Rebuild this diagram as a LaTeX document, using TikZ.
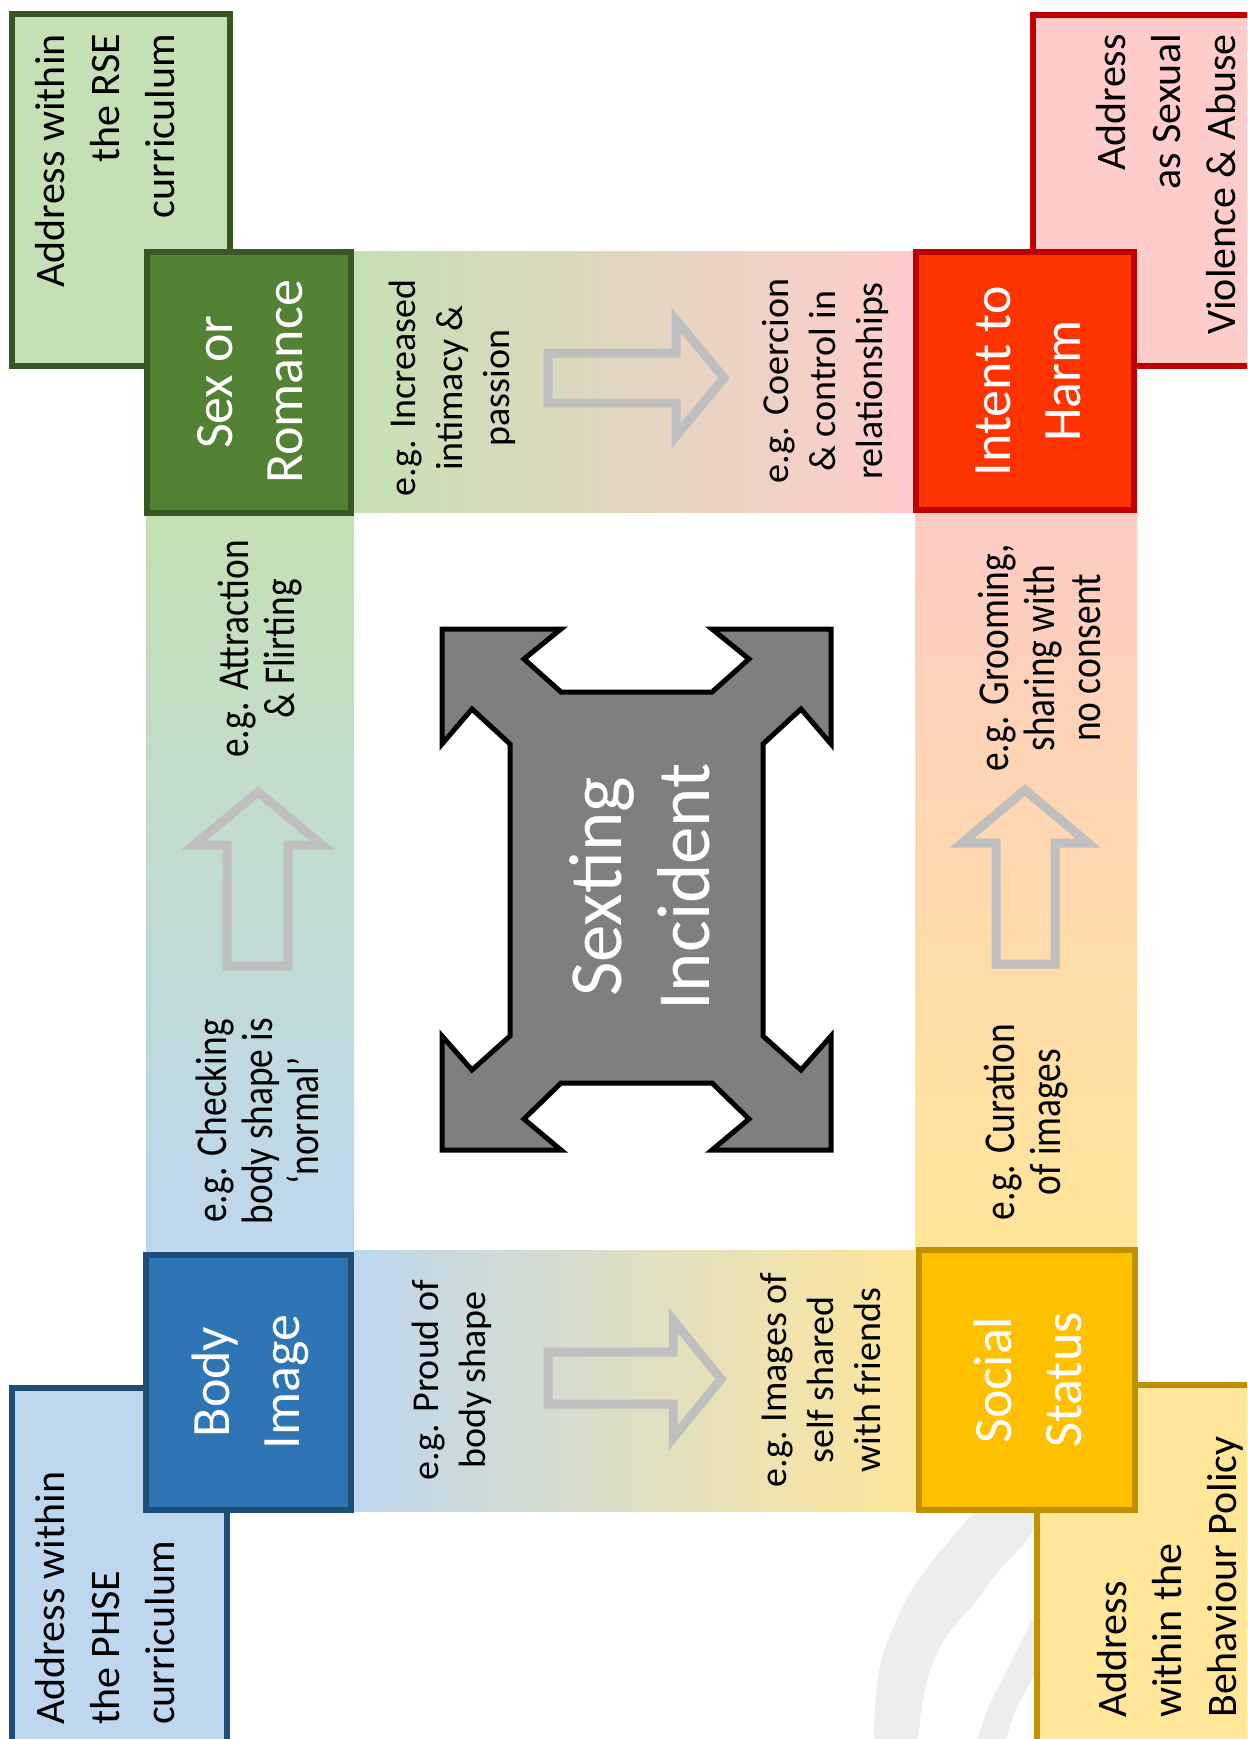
\documentclass[tikz,border=0pt]{standalone}
\usepackage{fontspec}
\setmainfont{Carlito}
\newfontfamily\condfont[FakeStretch=0.85]{Carlito}
\definecolor{lgreen}{HTML}{C5E0B4}
\definecolor{dgreen}{HTML}{385723}
\definecolor{mgreen}{HTML}{548235}
\definecolor{lpink}{HTML}{FFCCCC}
\definecolor{lsalmon}{HTML}{FDCBC4}
\definecolor{dred}{HTML}{C00000}
\definecolor{hred}{HTML}{FF3300}
\definecolor{lblue}{HTML}{BDD7EE}
\definecolor{dblue}{HTML}{1F4E79}
\definecolor{mblue}{HTML}{2E75B6}
\definecolor{lyellow}{HTML}{FFE699}
\definecolor{dgold}{HTML}{BF9000}
\definecolor{mgold}{HTML}{FFC000}
\definecolor{arrowgray}{HTML}{BFBFBF}
\definecolor{shapegray}{HTML}{7F7F7F}
\definecolor{wmgray}{HTML}{EDEDED}
\begin{document}
\begin{tikzpicture}[x=1pt,y=-1pt,
  boxline/.style={line width=6pt},
  titletext/.style={rotate=90, text=white, align=center, inner sep=0pt, font=\fontsize{54}{70}\selectfont},
  outertext/.style={rotate=90, inner sep=0pt, font=\fontsize{42}{55}\selectfont},
  bandtext/.style={rotate=90, inner sep=0pt, align=center, font=\fontsize{38}{47}\selectfont},
  sidetext/.style={rotate=90, inner sep=0pt, align=center, font=\condfont\fontsize{44}{46}\selectfont},
  hollowarrow/.style={draw=arrowgray, line width=9pt, line join=miter, miter limit=10},
  ]
\useasboundingbox (0,0) rectangle (1247,1739);
\clip (0,0) rectangle (1247,1739);
\fill[white] (0,0) rectangle (1247,1739);

% watermark brush strokes
\fill[wmgray, rounded corners=12pt] (873,1745) -- (876,1690) -- (881,1658) -- (894,1625) -- (911,1590) -- (931,1562) -- (956,1533) -- (975,1510)
  -- (1045,1510) -- (1028,1540) -- (996,1573) -- (978,1600) -- (958,1621) -- (941,1643) -- (929,1672) -- (921,1710) -- (918,1745) -- cycle;
\fill[wmgray, rounded corners=8pt] (975,1745) -- (990,1703) -- (1006,1672) -- (1022,1640) -- (1040,1605) -- (1040,1665) -- (1016,1708) -- (1004,1745) -- cycle;

% outer boxes
\filldraw[boxline, draw=dgreen, fill=lgreen] (12,14) rectangle (230,366);
\filldraw[boxline, draw=dred, fill=lpink] (1033,15) rectangle (1270,366);
\filldraw[boxline, draw=dblue, fill=lblue] (12,1388) rectangle (227,1760);
\filldraw[boxline, draw=dgold, fill=lyellow] (1037,1385) rectangle (1270,1760);

% gradient bands
\shade[left color=lgreen, right color=lpink] (350,251) rectangle (916,512);
\shade[top color=lgreen, bottom color=lblue] (146,512) rectangle (354,1252);
\shade[left color=lblue, right color=lyellow] (350,1250) rectangle (919,1511);
\shade[top color=lsalmon, bottom color=lyellow] (915,510) rectangle (1137,1250);

% main boxes
\filldraw[boxline, draw=dgreen, fill=mgreen] (147,252) rectangle (351,513);
\filldraw[boxline, draw=dred, fill=hred] (916,252) rectangle (1134,510);
\filldraw[boxline, draw=dblue, fill=mblue] (146,1255) rectangle (351,1510);
\filldraw[boxline, draw=dgold, fill=mgold] (919,1250) rectangle (1135,1510);

% hollow arrows
\draw[hollowarrow] (548,353) -- (676,353) -- (676,320) -- (724,378) -- (676,436) -- (676,403) -- (548,403) -- cycle;
\draw[hollowarrow] (548,1352) -- (673,1352) -- (673,1320) -- (721,1379) -- (673,1438) -- (673,1404) -- (548,1404) -- cycle;
\draw[hollowarrow] (227,966) -- (227,845) -- (194,845) -- (258,792) -- (322,845) -- (288,845) -- (288,966) -- cycle;
\draw[hollowarrow] (996,964) -- (996,843) -- (962,843) -- (1025,790) -- (1088,843) -- (1055,843) -- (1055,964) -- cycle;

% central four-way arrow shape
\filldraw[draw=black, line width=5pt, fill=shapegray, line join=miter]
  (442,629) -- (561,629) -- (524,659) -- (561,692) -- (712,692) -- (749,659) -- (712,629)
  -- (831,629) -- (831,744) -- (801,709) -- (763,744) -- (763,1036) -- (801,1070) -- (831,1036)
  -- (831,1150) -- (712,1150) -- (749,1119) -- (712,1083) -- (561,1083) -- (524,1119) -- (561,1150)
  -- (442,1150) -- (442,1036) -- (472,1070) -- (510,1036) -- (510,744) -- (472,709) -- (442,744) -- cycle;

% texts
\node[outertext, align=right, anchor=east] (rse) at (105,34) {Address within\\the RSE\\curriculum};
\node[outertext, align=right, anchor=east] (svab) at (1166,34) {Address\\as Sexual\\Violence \& Abuse};
\node[outertext, align=left, anchor=west] (phse) at (105,1725) {Address within\\the PHSE\\curriculum};
\node[outertext, align=left, anchor=west] (behav) at (1170,1718) {Address\\within the\\Behaviour Policy};

\node[titletext] (sexrom) at (250,382) {Sex or\\Romance};
\node[titletext] (intent) at (1028,381) {Intent to\\Harm};
\node[titletext] (body) at (250,1382) {Body\\Image};
\node[titletext] (social) at (1028,1380) {Social\\Status};

\node[rotate=90, text=white, align=center, inner sep=0pt, font=\fontsize{75}{88}\selectfont] (sexting) at (640,887) {Sexting\\Incident};

\node[bandtext] (incr) at (452,388) {e.g. Increased\\intimacy \&\\passion};
\node[bandtext] (coer) at (825,381) {e.g. Coercion\\\& control in\\relationships};
\node[bandtext] (proud) at (452,1380) {e.g. Proud of\\body shape};
\node[bandtext] (images) at (821,1380) {e.g.\ Images of\\self shared\\with friends};
\node[sidetext] (attr) at (260,649) {e.g. Attraction\\\& Flirting};
\node[sidetext] (check) at (257,1121) {e.g. Checking\\body shape is\\‘normal’};
\node[sidetext] (groom) at (1040,658) {e.g. Grooming,\\sharing with\\no consent};
\node[sidetext] (cur) at (1026,1122) {e.g. Curation\\of images};
\end{tikzpicture}
\end{document}
